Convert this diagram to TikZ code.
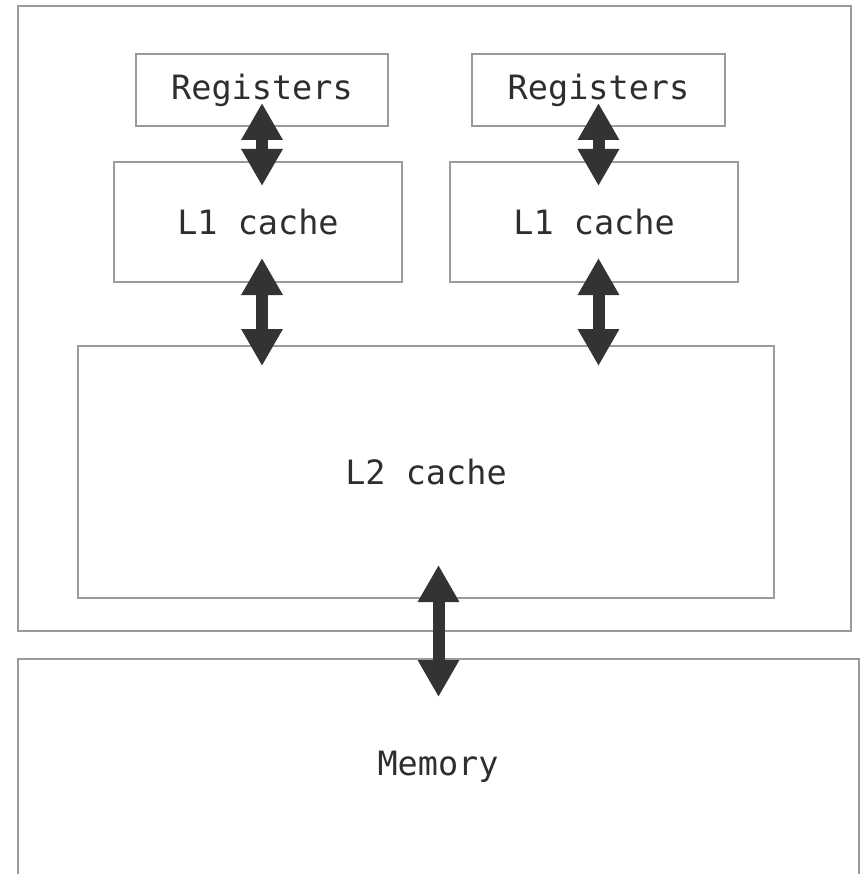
\documentclass[tikz,border=0pt]{standalone}
\usepackage{fontspec}
\setmonofont{DejaVu Sans Mono}
\usetikzlibrary{arrows.meta}
\definecolor{boxgray}{HTML}{9A9A9A}
\definecolor{arr}{HTML}{333333}
\definecolor{txt}{HTML}{2E2E2E}
\begin{document}
\begin{tikzpicture}[x=1pt,y=-1pt,
  frame/.style={draw=boxgray, line width=1.2pt, inner sep=0pt, outer sep=0pt, fill=none},
  box/.style={frame, font=\ttfamily\fontsize{33.5}{40}\selectfont, text=txt},
  lbl/.style={font=\ttfamily\fontsize{33.5}{40}\selectfont, text=txt, inner sep=0pt},
  fat/.style={draw=arr, line width=12pt, {Triangle[length=37pt,width=39pt]}-{Triangle[length=37pt,width=39pt]}}]
\useasboundingbox (0,0) rectangle (862,874);
\clip (0,0) rectangle (862,874);
\fill[white] (0,0) rectangle (862,874);
% outer CPU frame
\node[frame, minimum width=833pt, minimum height=625pt] (cpu) at (434.5,318.5) {};
% registers
\node[box, minimum width=252pt, minimum height=72pt] (reg1) at (262,90) {Registers};
\node[box, minimum width=253pt, minimum height=72pt] (reg2) at (598.5,90) {Registers};
% L1 caches
\node[box, minimum width=288pt, minimum height=120pt] (l1a) at (258,222) {L1 cache};
\node[box, minimum width=288pt, minimum height=120pt] (l1b) at (594,222) {L1 cache};
% L2 cache
\node[box, minimum width=696pt, minimum height=252pt] (l2) at (426,472) {L2 cache};
% memory
\node[frame, minimum width=841pt, minimum height=260pt] (mem) at (438.5,789) {};
\node[lbl] (memtxt) at (438,767) {Memory};
% arrows
\draw[fat, shorten <=-23pt, shorten >=-24pt] (reg1.south) -- (reg1.south |- l1a.north);
\draw[fat, shorten <=-23pt, shorten >=-24pt] (reg2.south) -- (reg2.south |- l1b.north);
\draw[fat, shorten <=-24pt, shorten >=-20pt] (reg1.south |- l1a.south) -- (reg1.south |- l2.north);
\draw[fat, shorten <=-24pt, shorten >=-20pt] (reg2.south |- l1b.south) -- (reg2.south |- l2.north);
\draw[fat, shorten <=-33pt, shorten >=-38pt] (mem.north |- l2.south) -- (mem.north);
\end{tikzpicture}
\end{document}
